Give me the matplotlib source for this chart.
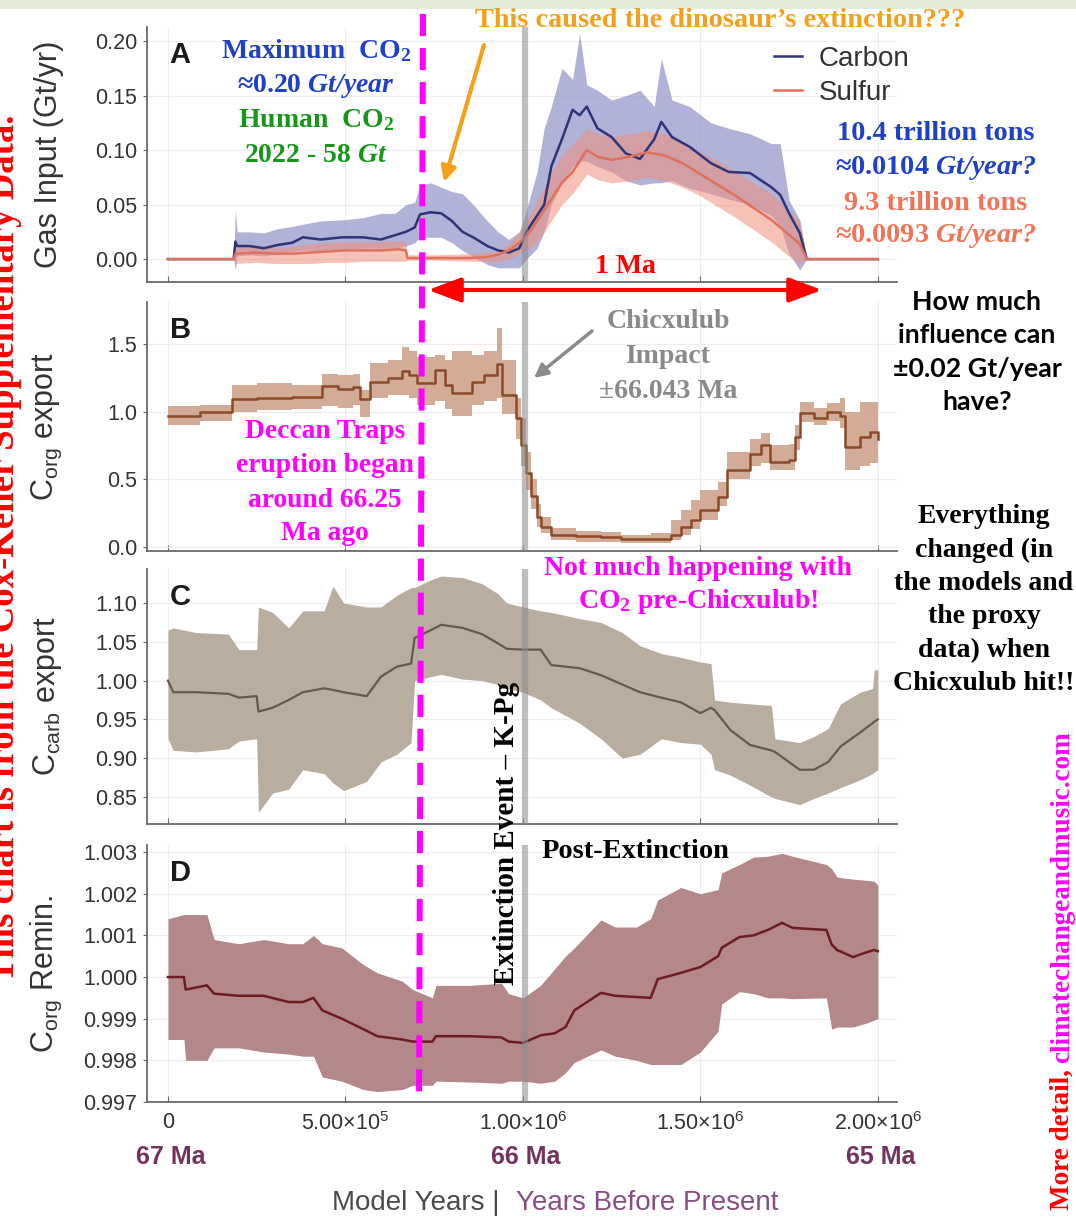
import matplotlib.pyplot as plt
import numpy as np
from matplotlib.patches import Rectangle, ArrowStyle
from matplotlib.lines import Line2D

plt.rcParams['font.family'] = 'Liberation Sans'
plt.rcParams['mathtext.fontset'] = 'custom'
plt.rcParams['mathtext.default'] = 'regular'
plt.rcParams['mathtext.it'] = 'Liberation Serif:italic:bold'
plt.rcParams['mathtext.rm'] = 'Liberation Serif:italic:bold'   # '/' and '?' inside \mathit

# ============================================================
# DATA  (x values in units of 1e5 model years)
# ============================================================
# --- A: gas input (Gt/yr)
carbon_x   = [0, 1.85, 1.9, 1.95, 2.3, 2.7, 3.1, 3.5, 3.8, 4.3, 4.9, 5.5, 6.0, 6.4, 6.7, 6.95, 7.1, 7.4, 7.7, 8.0,
              8.3, 8.6, 9.0, 9.3, 9.6, 9.9, 10.1, 10.4, 10.6, 10.8, 11.1, 11.4, 11.6, 11.8, 12.1, 12.5, 12.9, 13.3,
              13.7, 13.9, 14.2, 14.7, 15.3, 15.8, 16.4, 17.0, 17.25, 17.5, 17.8, 18.0, 20.0]
carbon_mid = [0, 0, 0.016, 0.012, 0.012, 0.010, 0.013, 0.015, 0.020, 0.018, 0.020, 0.020, 0.018, 0.022, 0.025, 0.029,
              0.041, 0.043, 0.042, 0.035, 0.025, 0.020, 0.012, 0.008, 0.006, 0.010, 0.025, 0.040, 0.050, 0.085, 0.110,
              0.137, 0.132, 0.140, 0.120, 0.112, 0.097, 0.092, 0.110, 0.126, 0.112, 0.103, 0.088, 0.080, 0.079, 0.066,
              0.059, 0.042, 0.024, 0, 0]
carbon_hi  = [0, 0, 0.045, 0.025, 0.025, 0.024, 0.028, 0.030, 0.032, 0.035, 0.036, 0.038, 0.042, 0.042, 0.050, 0.052,
              0.068, 0.070, 0.066, 0.062, 0.060, 0.050, 0.035, 0.025, 0.018, 0.025, 0.045, 0.080, 0.120, 0.140, 0.175,
              0.165, 0.207, 0.160, 0.155, 0.146, 0.150, 0.155, 0.140, 0.184, 0.146, 0.140, 0.125, 0.120, 0.115, 0.106,
              0.106, 0.054, 0.036, 0, 0]
carbon_lo  = [0, 0, -0.010, 0.003, 0.004, 0.003, 0.005, 0.007, 0.008, 0.008, 0.009, 0.010, 0.010, 0.010, 0.012, 0.015,
              0.020, 0.020, 0.020, 0.015, 0.008, 0.002, -0.005, -0.008, -0.008, -0.008, 0.000, 0.010, 0.025, 0.050,
              0.070, 0.085, 0.090, 0.090, 0.085, 0.080, 0.072, 0.068, 0.070, 0.070, 0.072, 0.065, 0.060, 0.055, 0.050,
              0.040, 0.030, 0.005, -0.010, 0, 0]

sulfur_x   = [0, 1.85, 1.9, 2.5, 3.0, 3.5, 4.0, 4.5, 5.0, 5.5, 6.0, 6.5, 6.7, 6.75, 7.5, 8.5, 9.0, 9.3, 9.6, 9.9, 10.2,
              10.5, 10.8, 11.1, 11.4, 11.8, 12.1, 12.5, 13.0, 13.5, 14.0, 14.5, 15.0, 15.5, 16.0, 16.5, 17.0, 17.4,
              17.8, 18.0, 20.0]
sulfur_mid = [0, 0, 0.005, 0.006, 0.005, 0.005, 0.006, 0.007, 0.008, 0.008, 0.008, 0.009, 0.008, 0.001, 0.001, 0.001,
              0.002, 0.004, 0.008, 0.015, 0.025, 0.040, 0.055, 0.070, 0.080, 0.100, 0.094, 0.091, 0.094, 0.098, 0.095,
              0.088, 0.078, 0.068, 0.058, 0.047, 0.036, 0.025, 0.014, 0, 0]
sulfur_hi  = [0, 0, 0.012, 0.013, 0.010, 0.012, 0.014, 0.015, 0.016, 0.016, 0.016, 0.017, 0.016, 0.004, 0.004, 0.005,
              0.006, 0.008, 0.014, 0.025, 0.040, 0.060, 0.080, 0.095, 0.105, 0.120, 0.115, 0.112, 0.115, 0.118, 0.115,
              0.108, 0.098, 0.090, 0.080, 0.070, 0.060, 0.048, 0.035, 0, 0]
sulfur_lo  = [0, 0, -0.004, -0.003, -0.004, -0.004, -0.004, -0.003, -0.003, -0.002, -0.002, -0.002, -0.002, -0.001,
              -0.001, -0.002, -0.002, -0.002, 0.000, 0.005, 0.010, 0.020, 0.035, 0.050, 0.060, 0.078, 0.073, 0.070,
              0.072, 0.075, 0.072, 0.066, 0.058, 0.048, 0.038, 0.027, 0.016, 0.005, -0.005, 0, 0]

# --- B: C_org export
corg_x   = [0, 0.9, 1.8, 2.5, 3.5, 4.35, 4.8, 5.2, 5.41, 5.69, 6.2, 6.59, 6.8, 7.01, 7.52, 7.8, 8.0, 8.56, 8.9, 9.26,
            9.4, 9.82, 9.95, 10.1, 10.24, 10.4, 10.52, 10.8, 11.5, 12.2, 12.76, 13.6, 14.17, 14.45, 14.73, 15.0, 15.5,
            15.76, 16.4, 16.7, 16.97, 17.5, 17.67, 17.8, 18.2, 18.57, 18.93, 19.07, 19.5, 19.78, 20.0]
corg_mid = [0.97, 1.00, 1.09, 1.10, 1.11, 1.19, 1.17, 1.18, 1.09, 1.22, 1.25, 1.30, 1.27, 1.21, 1.31, 1.20, 1.14, 1.22,
            1.27, 1.35, 1.12, 0.95, 0.75, 0.55, 0.38, 0.22, 0.15, 0.09, 0.08, 0.07, 0.055, 0.06, 0.09, 0.15, 0.20, 0.27,
            0.37, 0.57, 0.69, 0.75, 0.63, 0.64, 0.81, 0.99, 0.95, 1.00, 0.97, 0.74, 0.81, 0.85, 0.80]
corg_lo  = [0.90, 0.93, 1.00, 1.01, 1.02, 1.04, 1.03, 1.05, 0.96, 1.10, 1.12, 1.12, 1.10, 1.05, 1.08, 1.02, 0.97, 1.05,
            1.08, 1.10, 0.98, 0.80, 0.60, 0.42, 0.28, 0.15, 0.10, 0.05, 0.04, 0.04, 0.03, 0.03, 0.05, 0.09, 0.13, 0.20,
            0.30, 0.50, 0.60, 0.62, 0.57, 0.57, 0.72, 0.92, 0.90, 0.93, 0.88, 0.57, 0.60, 0.62, 0.57]
corg_hi  = [1.04, 1.05, 1.20, 1.21, 1.20, 1.28, 1.27, 1.28, 1.16, 1.36, 1.38, 1.48, 1.45, 1.40, 1.42, 1.38, 1.45, 1.42,
            1.45, 1.62, 1.38, 1.10, 0.95, 0.70, 0.50, 0.32, 0.22, 0.14, 0.12, 0.11, 0.09, 0.10, 0.20, 0.27, 0.35, 0.42,
            0.48, 0.70, 0.80, 0.84, 0.75, 0.76, 0.90, 1.07, 1.03, 1.06, 1.10, 1.00, 1.07, 1.07, 1.00]

# --- C: C_carb export
ccarb_x   = [0.0, 0.15, 0.8, 1.7, 2.0, 2.5, 2.55, 2.95, 3.4, 3.8, 4.4, 4.65, 4.95, 5.6, 6.0, 6.45, 6.85, 6.95, 7.4, 7.7,
             8.3, 8.85, 9.3, 9.55, 10.0, 10.5, 10.8, 11.6, 12.2, 12.8, 13.3, 13.9, 14.45, 15.0, 15.3, 15.4, 15.85, 16.4,
             17.0, 17.1, 17.8, 18.2, 18.6, 18.95, 19.5, 19.85, 19.9, 20.0]
ccarb_mid = [1.000, 0.985, 0.985, 0.983, 0.978, 0.980, 0.960, 0.965, 0.975, 0.985, 0.990, 0.988, 0.985, 0.980, 1.005,
             1.018, 1.022, 1.055, 1.065, 1.072, 1.068, 1.060, 1.048, 1.041, 1.040, 1.040, 1.020, 1.016, 1.007, 0.995,
             0.985, 0.978, 0.972, 0.958, 0.965, 0.962, 0.936, 0.917, 0.910, 0.908, 0.885, 0.885, 0.895, 0.915, 0.933,
             0.945, 0.947, 0.950]
ccarb_lo  = [0.925, 0.910, 0.908, 0.912, 0.922, 0.925, 0.830, 0.855, 0.860, 0.885, 0.880, 0.868, 0.858, 0.870, 0.895,
             0.905, 0.920, 1.000, 1.005, 1.008, 1.002, 1.000, 0.995, 0.990, 0.985, 0.975, 0.965, 0.945, 0.925, 0.900,
             0.905, 0.925, 0.920, 0.918, 0.905, 0.885, 0.878, 0.865, 0.850, 0.848, 0.840, 0.848, 0.855, 0.862, 0.872,
             0.880, 0.882, 0.885]
ccarb_hi  = [1.065, 1.068, 1.062, 1.060, 1.040, 1.040, 1.095, 1.088, 1.068, 1.090, 1.090, 1.122, 1.100, 1.095, 1.095,
             1.110, 1.120, 1.120, 1.130, 1.135, 1.133, 1.125, 1.112, 1.100, 1.095, 1.090, 1.088, 1.080, 1.075, 1.062,
             1.045, 1.035, 1.030, 1.024, 1.022, 0.975, 0.972, 0.970, 0.968, 0.925, 0.920, 0.928, 0.938, 0.970, 0.985,
             0.990, 1.014, 1.014]

# --- D: C_org remineralisation
remin_x   = [0.0, 0.45, 0.5, 1.1, 1.3, 2.0, 2.7, 3.4, 3.8, 4.1, 4.35, 4.9, 5.5, 5.9, 6.6, 6.9, 7.45, 7.55, 8.5, 9.4, 9.6,
             10.0, 10.5, 10.9, 11.2, 11.45, 12.2, 12.6, 13.2, 13.6, 13.8, 14.45, 15.0, 15.5, 15.6, 16.1, 16.5, 16.9,
             17.3, 17.6, 18.55, 18.7, 18.85, 19.3, 19.7, 19.9, 20.0]
remin_mid = [1.0000, 1.0000, 0.9997, 0.9998, 0.9996, 0.99955, 0.99955, 0.9994, 0.9994, 0.9995, 0.9992, 0.9990, 0.99875,
             0.99858, 0.9985, 0.99845, 0.99845, 0.99858, 0.99858, 0.99855, 0.99845, 0.99842, 0.9986, 0.99865, 0.9988,
             0.9992, 0.99962, 0.99955, 0.99952, 0.9995, 0.99995, 1.0001, 1.00024, 1.0005, 1.0007, 1.00096, 1.0010,
             1.00113, 1.0013, 1.00118, 1.00113, 1.00078, 1.00065, 1.00048, 1.0006, 1.00065, 1.00062]
remin_lo  = [0.9985, 0.9985, 0.9980, 0.9980, 0.9983, 0.9983, 0.9982, 0.99815, 0.9981, 0.9981, 0.9976, 0.9975, 0.9973,
             0.99725, 0.9973, 0.9974, 0.9974, 0.9975, 0.99748, 0.99745, 0.9975, 0.9975, 0.99745, 0.9975, 0.9977,
             0.99795, 0.99825, 0.9981, 0.9980, 0.9979, 0.9979, 0.9979, 0.9982, 0.9987, 0.99935, 0.99965, 0.9996,
             0.9995, 0.9995, 0.99948, 0.9995, 0.99875, 0.9988, 0.9988, 0.9989, 0.99897, 0.9990]
remin_hi  = [1.0014, 1.0015, 1.0015, 1.0015, 1.0009, 1.0008, 1.0009, 1.0008, 1.0008, 1.0010, 1.0008, 1.0007, 1.0003,
             1.0001, 0.9999, 0.9997, 0.9995, 0.9998, 0.9998, 0.99985, 0.9996, 0.9995, 0.9998, 1.0002, 1.0005, 1.0007,
             1.00137, 1.0012, 1.0012, 1.0014, 1.00185, 1.00215, 1.0020, 1.0021, 1.0025, 1.0027, 1.00288, 1.0029,
             1.00297, 1.0029, 1.0027, 1.0026, 1.0024, 1.00235, 1.00232, 1.0023, 1.0022]

# axis ticks / labels
x_ticks = [0, 5e5, 1e6, 1.5e6, 2e6]
x_ticklabels = ['0', '$5.00{\\times}10^{5}$', '$1.00{\\times}10^{6}$', '$1.50{\\times}10^{6}$', '$2.00{\\times}10^{6}$']
era_ticks = [0, 1e6, 2e6]
era_labels = ['67 Ma', '66 Ma', '65 Ma']
impact_x = 1.005e6

# ============================================================
# FIGURE
# ============================================================
W, H = 1076, 1217
fig = plt.figure(figsize=(W / 100, H / 100), dpi=100, facecolor='white')

def px_rect(left, top, right, bottom):
    return [left / W, 1 - bottom / H, (right - left) / W, (bottom - top) / H]

def ex(xs):
    return np.array(xs) * 1e5

def style(ax, ylim, yticks, yticklabels, letter, ylabel):
    ax.set_xlim(-0.059e6, 2.054e6)
    ax.set_ylim(*ylim)
    ax.set_yticks(yticks, yticklabels)
    ax.set_xticks(x_ticks)
    ax.set_xticklabels([])
    for s in ('top', 'right'):
        ax.spines[s].set_visible(False)
    for s in ('left', 'bottom'):
        ax.spines[s].set_color('#6a6a6a')
        ax.spines[s].set_linewidth(1.3)
    ax.tick_params(axis='y', direction='out', length=3, color='#6a6a6a', labelsize=15.5,
                   labelcolor='#333333', pad=4)
    ax.tick_params(axis='x', direction='in', length=4, color='#6a6a6a', labelsize=15.5,
                   labelcolor='#333333', pad=7)
    ax.grid(True, color='#ededed', lw=0.8)
    ax.set_axisbelow(True)
    ax.set_ylabel(ylabel, fontsize=22, color='#333333')
    ax.yaxis.set_label_coords(-0.110, 0.5)
    ax.text(0.03, 0.945, letter, transform=ax.transAxes, fontsize=21, fontweight='bold',
            va='top', ha='left', color='#1a1a1a')
    ax.axvline(impact_x, color='#8c8c8c', alpha=0.55, lw=4.5, zorder=5)

ax_a = fig.add_axes(px_rect(147, 27, 897, 282))
ax_b = fig.add_axes(px_rect(147, 302, 897, 551))
ax_c = fig.add_axes(px_rect(147, 569, 897, 824))
ax_d = fig.add_axes(px_rect(147, 845, 897, 1102))

# --- A
ax_a.fill_between(ex(carbon_x), carbon_lo, carbon_hi, color='#9092c8', alpha=0.7, lw=0)
ax_a.fill_between(ex(sulfur_x), sulfur_lo, sulfur_hi, color='#f08e7a', alpha=0.55, lw=0)
l_c, = ax_a.plot(ex(carbon_x), carbon_mid, color='#2e3577', lw=1.8)
l_s, = ax_a.plot(ex(sulfur_x), sulfur_mid, color='#e0715c', lw=1.8)
style(ax_a, (-0.021, 0.213), [0, 0.05, 0.10, 0.15, 0.20], ['0.00', '0.05', '0.10', '0.15', '0.20'],
      'A', 'Gas Input (Gt/yr)')
ax_a.legend([l_c, l_s], ['Carbon', 'Sulfur'], loc='upper right', bbox_to_anchor=(1.05, 1.025),
            frameon=False, fontsize=20, handlelength=1.0, handletextpad=0.6, labelspacing=0.3,
            labelcolor='#333333')

# --- B
ax_b.fill_between(ex(corg_x), corg_lo, corg_hi, step='post', color='#c8987e', alpha=0.8, lw=0)
ax_b.plot(ex(corg_x), corg_mid, drawstyle='steps-post', color='#8a4a27', lw=1.8)
style(ax_b, (-0.03, 1.81), [0, 0.5, 1.0, 1.5], ['0.0', '0.5', '1.0', '1.5'], 'B', '$C_{org}$ export')

# --- C
ax_c.fill_between(ex(ccarb_x), ccarb_lo, ccarb_hi, color='#b8ad9e', lw=0)
ax_c.plot(ex(ccarb_x), ccarb_mid, color='#665a4c', lw=1.6)
style(ax_c, (0.815, 1.144), [0.85, 0.90, 0.95, 1.00, 1.05, 1.10],
      ['0.85', '0.90', '0.95', '1.00', '1.05', '1.10'], 'C', '$C_{carb}$ export')

# --- D
ax_d.fill_between(ex(remin_x), remin_lo, remin_hi, color='#b48888', lw=0)
ax_d.plot(ex(remin_x), remin_mid, color='#6b1d22', lw=1.8)
style(ax_d, (0.997, 1.00317), [0.997, 0.998, 0.999, 1.000, 1.001, 1.002, 1.003],
      ['0.997', '0.998', '0.999', '1.000', '1.001', '1.002', '1.003'], 'D', '$C_{org}$ Remin.')
ax_d.set_xticklabels(x_ticklabels)
for xv, lab in zip(era_ticks, era_labels):
    ax_d.text(xv + 0.008e6, -0.215, lab, transform=ax_d.get_xaxis_transform(), ha='center', va='center',
              fontsize=18, fontweight='bold', color='#74335f')

# ============================================================
# OVERLAY ANNOTATIONS (pixel coordinates)
# ============================================================
ov = fig.add_axes([0, 0, 1, 1])
ov.set_xlim(0, W)
ov.set_ylim(H, 0)
ov.axis('off')

ov.add_patch(Rectangle((0, 0), W, 9, color='#e5edd9', lw=0))

serif = ['Liberation Serif', 'DejaVu Serif']
def note(px, py, s, color, size=20, ha='center', **kw):
    ov.text(px, py, s, color=color, fontsize=size, ha=ha, va='baseline', family=serif,
            fontweight='bold', **kw)

BLUE, GREEN, ORANGE, SALMON = '#2040c8', '#17961a', '#f5a01a', '#ef7556'
MAG, GRAY, RED = '#ff00ff', '#8a8a8a', '#ff0000'

# magenta dashed line (Deccan traps)
ov.add_line(Line2D([423, 419], [14, 1102], color=MAG, lw=4.3, dashes=(3.7, 2.0)))

note(720, 27, 'This caused the dinosaur’s extinction???', ORANGE, size=20.3)
ov.annotate('', xy=(444, 182), xytext=(484, 45),
            arrowprops=dict(arrowstyle='-|>', color=ORANGE, lw=3, mutation_scale=22, shrinkA=0, shrinkB=0))

note(316, 58, 'Maximum  CO$_2$', BLUE)
note(316, 92, '≈0.20 $\\mathit{Gt/year}$', BLUE)
note(316, 127, 'Human  CO$_2$', GREEN)
note(316, 162, '2022 - 58 $\\mathit{Gt}$', GREEN)

note(936, 140, '10.4 trillion tons', BLUE, size=20.3)
note(936, 174, '≈0.0104 $\\mathit{Gt/year?}$', BLUE, size=20.3)
note(936, 210, '9.3 trillion tons', SALMON, size=20.3)
note(936, 242, '≈0.0093 $\\mathit{Gt/year?}$', SALMON, size=20.3)

note(625, 273, '1 Ma', RED)
ov.annotate('', xy=(428, 290), xytext=(822, 290),
            arrowprops=dict(arrowstyle=ArrowStyle('<|-|>', head_length=0.8, head_width=0.3),
                            color=RED, lw=3, mutation_scale=25, shrinkA=0, shrinkB=0))

note(668, 328, 'Chicxulub', GRAY)
note(668, 363, 'Impact', GRAY)
note(668, 398, '±66.043 Ma', GRAY)
ov.annotate('', xy=(534, 378), xytext=(592, 331),
            arrowprops=dict(arrowstyle='-|>', color=GRAY, lw=2.5, mutation_scale=20, shrinkA=0, shrinkB=0))

for py, s in zip([310, 343, 377, 410], ['How much', 'influence can', '±0.02 Gt/year', 'have?']):
    ov.text(977, py, s, color='black', fontsize=19.3, ha='center', va='baseline', family='Lato',
            fontweight='bold')

for py, s in zip([523, 557, 590, 623, 657, 690],
                 ['Everything', 'changed (in', 'the models and', 'the proxy', 'data) when', 'Chicxulub hit!!']):
    note(984, py, s, 'black', size=20)

for py, s in zip([438, 472, 507, 540], ['Deccan Traps', 'eruption began', 'around 66.25', 'Ma ago']):
    note(325, py, s, MAG, size=19.8)

note(698, 575, 'Not much happening with', MAG, size=20)
note(698, 608, 'CO$_2$ pre-Chicxulub!', MAG, size=20)

note(514, 833, 'Extinction Event – K-Pg', 'black', size=21, rotation=90, rotation_mode='anchor')
note(542, 858, 'Post-Extinction', 'black', size=20.5, ha='left')

note(14, 548, 'This chart is from the Cox-Keller Supplementary Data.', RED, size=26.5,
     rotation=90, rotation_mode='anchor')
note(1069, 1210, 'More detail, ', RED, size=19.5, ha='left', rotation=90, rotation_mode='anchor')
note(1069, 1063, 'climatechangeandmusic.com', MAG, size=19.5, ha='left', rotation=90, rotation_mode='anchor')

ov.text(500, 1210, 'Model Years |', color='#4a4a4a', fontsize=20, ha='right', va='baseline')
ov.text(516, 1210, 'Years Before Present', color='#8a4f80', fontsize=20, ha='left', va='baseline')

fig.savefig('out.png', dpi=100)
